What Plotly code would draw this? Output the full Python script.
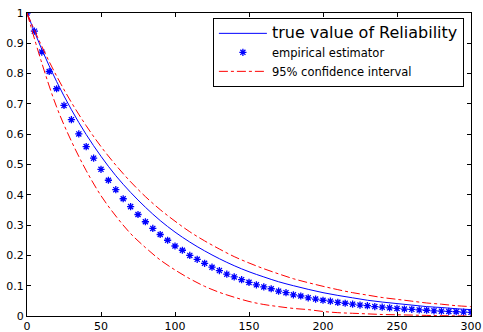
import plotly.graph_objects as go

# true reliability and confidence bounds, sampled every 10 units
x_line = list(range(0, 301, 10))
true_R = [1.0, 0.880, 0.774, 0.681, 0.599, 0.527, 0.463, 0.408, 0.359, 0.315,
          0.277, 0.244, 0.215, 0.189, 0.166, 0.146, 0.129, 0.113, 0.100, 0.088,
          0.077, 0.068, 0.060, 0.052, 0.046, 0.041, 0.036, 0.031, 0.028, 0.024, 0.021]
upper_ci = [1.0, 0.890, 0.792, 0.705, 0.628, 0.559, 0.498, 0.443, 0.394, 0.351,
            0.313, 0.278, 0.248, 0.221, 0.196, 0.175, 0.156, 0.139, 0.123, 0.110,
            0.098, 0.087, 0.077, 0.069, 0.061, 0.055, 0.049, 0.043, 0.039, 0.034, 0.031]
lower_ci = [1.0, 0.835, 0.690, 0.577, 0.480, 0.397, 0.330, 0.272, 0.226, 0.185,
            0.152, 0.123, 0.098, 0.078, 0.062, 0.048, 0.038, 0.031, 0.025, 0.021,
            0.015, 0.011, 0.009, 0.007, 0.005, 0.004, 0.003, 0.002, 0.001, 0.0005, 0.0]

# empirical estimator, every 5 units
x_emp = list(range(0, 301, 5))
emp_R = [1.0, 0.940, 0.871, 0.807, 0.750, 0.695, 0.648, 0.601, 0.559, 0.521,
         0.484, 0.448, 0.417, 0.387, 0.361, 0.335, 0.311, 0.289, 0.269, 0.250,
         0.231, 0.217, 0.200, 0.187, 0.174, 0.161, 0.150, 0.138, 0.129, 0.120,
         0.111, 0.103, 0.096, 0.090, 0.082, 0.077, 0.070, 0.066, 0.060, 0.056,
         0.052, 0.049, 0.045, 0.042, 0.039, 0.036, 0.034, 0.031, 0.029, 0.027,
         0.025, 0.023, 0.022, 0.020, 0.019, 0.017, 0.016, 0.015, 0.014, 0.013, 0.012]

x_ticks = [0, 50, 100, 150, 200, 250, 300]
y_ticks = [0, 0.1, 0.2, 0.3, 0.4, 0.5, 0.6, 0.7, 0.8, 0.9, 1]
y_tick_text = ["0", "0.1", "0.2", "0.3", "0.4", "0.5", "0.6", "0.7", "0.8", "0.9", "1"]

FONT = "DejaVu Sans"

fig = go.Figure()
fig.add_trace(go.Scatter(
    x=x_line, y=true_R, mode="lines", line=dict(color="#0000ff", width=1, shape="spline"),
    name="<span style='font-size:16px'>true value of Reliability</span>"))
fig.add_trace(go.Scatter(
    x=x_emp, y=emp_R, mode="markers",
    marker=dict(symbol="asterisk-open", size=6, color="#0000ff",
                line=dict(color="#0000ff", width=1.3)),
    name="empirical estimator"))
fig.add_trace(go.Scatter(
    x=x_line, y=upper_ci, mode="lines",
    line=dict(color="#ff0000", width=1, dash="dashdot", shape="spline"),
    name="95% confidence interval"))
fig.add_trace(go.Scatter(
    x=x_line, y=lower_ci, mode="lines",
    line=dict(color="#ff0000", width=1, dash="dashdot", shape="spline"),
    name="lower", showlegend=False))

axis_common = dict(showline=True, linecolor="black", linewidth=1.2, mirror="ticks",
                   ticks="inside", ticklen=4, tickcolor="black", showgrid=False,
                   zeroline=False, automargin=False,
                   tickfont=dict(size=11, color="black", family=FONT))
fig.update_xaxes(range=[0, 300], tickvals=x_ticks, **axis_common)
fig.update_yaxes(range=[0, 1], tickvals=y_ticks, ticktext=y_tick_text, **axis_common)

fig.update_layout(
    width=483, height=332,
    margin=dict(l=27, r=12, t=13, b=16),
    paper_bgcolor="white", plot_bgcolor="white",
    font=dict(family=FONT, size=11, color="black"),
    showlegend=True,
    legend=dict(x=0.984, y=0.984, xanchor="right", yanchor="top",
                bgcolor="white", bordercolor="black", borderwidth=1,
                itemwidth=48,
                font=dict(size=11.5, color="black", family=FONT), tracegroupgap=0),
)

fig.write_html("out.html", config={"displayModeBar": False},
               post_script="document.body.style.margin='0px';document.body.style.overflow='hidden';")
